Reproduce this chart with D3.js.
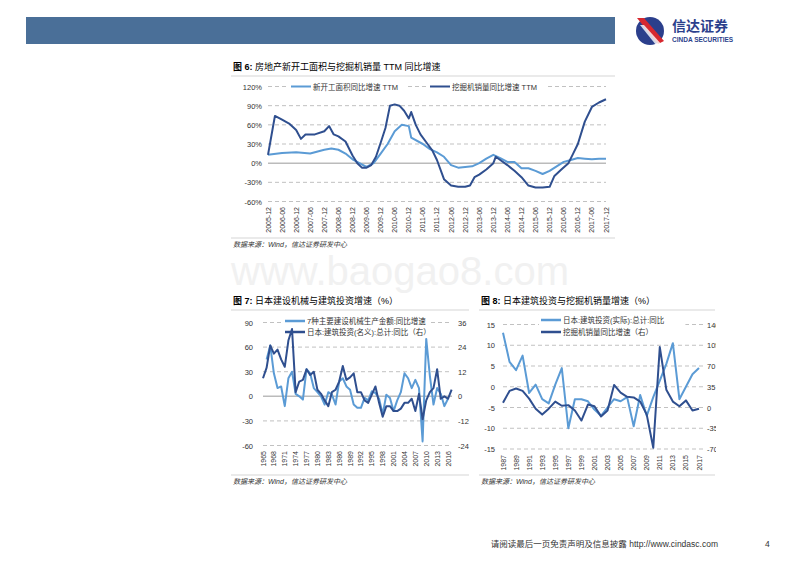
<!DOCTYPE html>
<html><head><meta charset="utf-8">
<script src="https://cdn.jsdelivr.net/npm/d3@7"></script>
<style>body{margin:0;background:#fff}svg{font-family:"Liberation Sans",Arial,"Noto Sans CJK SC",sans-serif}</style>
</head><body><svg id="c" width="800" height="566"></svg>
<script>
// ---- Chart 6 data (monthly, TTM yoy %) ----
const c6StartsDates=["2005-12","2006-06","2006-12","2007-06","2007-12","2008-03","2008-06","2008-09","2008-12","2009-03","2009-06","2009-09","2009-12","2010-03","2010-06","2010-09","2010-12","2011-01","2011-06","2011-09","2011-12","2012-03","2012-06","2012-09","2012-12","2013-03","2013-06","2013-09","2013-12","2014-03","2014-06","2014-09","2014-12","2015-03","2015-06","2015-09","2015-12","2016-03","2016-06","2016-09","2016-12","2017-03","2017-06","2017-09","2017-12"];
const c6StartsVals=[13,16,17,15,21,23,21,15,6,0,-6,0,15,30,50,60,58,40,30,22,17,10,-3,-7,-6,-5,0,7,13,8,2,2,-8,-8,-12,-17,-12,-5,2,5,8,7,6,7,7];
const c6ExcDates=["2005-12","2006-02","2006-03","2006-06","2006-09","2006-12","2007-02","2007-04","2007-08","2007-12","2008-02","2008-04","2008-06","2008-09","2008-12","2009-02","2009-04","2009-06","2009-08","2009-10","2009-12","2010-02","2010-04","2010-06","2010-08","2010-10","2010-12","2011-01","2011-03","2011-05","2011-08","2011-10","2011-12","2012-03","2012-06","2012-09","2012-12","2013-02","2013-04","2013-06","2013-09","2013-12","2014-01","2014-03","2014-06","2014-09","2014-12","2015-03","2015-06","2015-09","2015-12","2016-02","2016-05","2016-08","2016-10","2016-12","2017-03","2017-06","2017-09","2017-12"];
const c6ExcVals=[13,55,74,68,62,52,38,45,45,50,58,45,42,34,12,0,-7,-7,-3,10,32,55,90,92,90,82,70,80,60,45,30,20,5,-25,-35,-37,-37,-35,-22,-18,-10,0,10,5,-3,-12,-22,-35,-38,-38,-37,-20,-10,0,15,30,65,88,95,100];
const c6YTicks=[-60,-30,0,30,60,90,120];
// ---- Chart 7 data (annual) ----
const c7Machine=[[1966,45],[1967,62],[1968,28],[1969,10],[1970,12],[1971,-12],[1972,22],[1973,30],[1974,3],[1975,0],[1976,-4],[1977,33],[1978,28],[1979,10],[1980,5],[1981,0],[1982,-10],[1983,5],[1984,2],[1985,-10],[1986,18],[1987,22],[1988,12],[1989,8],[1990,-10],[1991,-14],[1992,-14],[1993,-2],[1994,-5],[1995,6],[1996,4],[1997,-3],[1998,-22],[1999,2],[2000,-2],[2001,-18],[2002,-5],[2003,5],[2004,28],[2005,22],[2006,10],[2007,20],[2008,10],[2009,-55],[2010,70],[2011,25],[2012,-10],[2013,10],[2014,3],[2015,-12],[2016,-3]];
const c7Invest=[[1965,8.8],[1966,14],[1967,24.8],[1968,20.8],[1969,22.8],[1970,18],[1971,14.4],[1972,27.2],[1973,32.8],[1974,2],[1975,7.2],[1976,8],[1977,13.2],[1978,10.4],[1979,12],[1980,3.2],[1981,1.2],[1982,-2],[1983,-4.8],[1984,2],[1985,3.2],[1986,7.2],[1987,14.8],[1988,8],[1989,9.2],[1990,11.2],[1991,2],[1992,2],[1993,-2],[1994,-3.2],[1995,0.8],[1996,4.8],[1997,-3.2],[1998,-10],[1999,-4.8],[2000,-4.8],[2001,-7.2],[2002,-7.2],[2003,-6],[2004,-3.2],[2005,-3.2],[2006,-1.2],[2007,-7.2],[2008,1.2],[2009,-11.2],[2010,-2],[2011,2],[2012,4],[2013,13.2],[2014,-1.2],[2015,0],[2016,-1.2],[2017,3.2]];
const c7LeftTicks=[-60,-30,0,30,60,90];
const c7RightTicks=[-24,-12,0,12,24,36];
// ---- Chart 8 data (annual) ----
const c8Years=d3.range(1987,2018);
const c8Invest=[13,6,4,7.5,-1.5,0.5,-3,-4,0.5,4.5,-10,-3,-3,-3.5,-5.5,-7,-5,-3,-3.5,-2.5,-9.5,-2,-7,-2.5,1.5,5.5,10.5,-3,0,3,4.5];
const c8Exc=[8,28,32,28,15,-2,-12,-2,10,3,4,-5,-22,5,2,-15,-5,38,25,18,17,10,-12,-68,102,30,10,2,12,-5,-2];
const c8LeftTicks=[-15,-10,-5,0,5,10,15];
const c8RightTicks=[-70,-35,0,35,70,105,140];

const LIGHT="#5b9bd5", DARK="#2f4f8f", GRID="#a6a6a6", TXT="#333";
const svg=d3.select("#c");
// header
svg.append("rect").attr("x",26).attr("y",17).attr("width",589).attr("height",27).attr("fill","#4a6f98");
const lg=svg.append("g").attr("transform","translate(650,31)");
lg.append("circle").attr("r",14).attr("fill","#2b3f8c");
lg.append("path").attr("d","M-13,-13 L-6,-13 L14,10 L8,13 Z").attr("fill","#d7282f");
lg.append("path").attr("d","M-10,-6 L-6,-6 L12,14 L6,14 Z").attr("fill","#fff").attr("opacity",0.8);
svg.append("text").attr("x",672).attr("y",31).attr("font-size",14).attr("font-weight","bold").attr("fill","#2b3f8c").attr("font-family","Noto Sans CJK SC").text("信达证券");
svg.append("text").attr("x",672).attr("y",42).attr("font-size",6.5).attr("font-weight","bold").attr("fill","#2b3f8c").text("CINDA SECURITIES");
// watermark
svg.append("text").attr("x",400).attr("y",285).attr("text-anchor","middle").attr("font-size",40).attr("fill","#f1f1f1").text("www.baogao8.com");
// footer
svg.append("text").attr("x",718).attr("y",547).attr("text-anchor","end").attr("font-size",8.5).attr("fill",TXT).text("请阅读最后一页免责声明及信息披露 http://www.cindasc.com");
svg.append("text").attr("x",765).attr("y",547).attr("font-size",8.5).attr("fill",TXT).text("4");

function title(x,y,num,t,w){
  const g=svg.append("text").attr("x",x).attr("y",y).attr("font-size",9).attr("fill","#000");
  g.append("tspan").attr("font-weight","bold").text("图 "+num+":  ");
  g.append("tspan").text(t);
  svg.append("line").attr("x1",x-2).attr("x2",x+w).attr("y1",y+6).attr("y2",y+6).attr("stroke","#bbb").attr("stroke-width",0.6);
}
function source(x,y,w){
  svg.append("line").attr("x1",x-2).attr("x2",x+w).attr("y1",y-9).attr("y2",y-9).attr("stroke","#bbb").attr("stroke-width",0.6);
  svg.append("text").attr("x",x).attr("y",y).attr("font-size",7).attr("font-style","italic").attr("fill",TXT).text("数据来源：Wind，信达证券研发中心");
}
function grid(y,ticks,x0,x1,zero){
  ticks.forEach(t=>{svg.append("line").attr("x1",x0).attr("x2",x1).attr("y1",y(t)).attr("y2",y(t))
    .attr("stroke",t===zero?"#bbb":GRID).attr("stroke-width",t===zero?1.5:0.7).attr("stroke-dasharray",t===zero?null:"4,3");});
}
function yLabels(y,ticks,x,anchor,fmt){
  ticks.forEach(t=>svg.append("text").attr("x",x).attr("y",y(t)+3).attr("text-anchor",anchor).attr("font-size",7.5).attr("fill",TXT).text(fmt(t)));
}
function xLabels(items,xpos,ybase){
  items.forEach(d=>svg.append("text").attr("transform",`translate(${xpos(d)+2.5},${ybase}) rotate(-90)`).attr("text-anchor","end").attr("font-size",7).attr("fill",TXT).text(d.label));
}
function path(data,x,y,col,w){
  svg.append("path").datum(data).attr("d",d3.line().x(d=>x(d[0])).y(d=>y(d[1]))).attr("fill","none").attr("stroke",col).attr("stroke-width",w).attr("stroke-linejoin","round");
}
function legend(x,y,col,txt,w,len,bg){
  if(bg) svg.append("rect").attr("x",x-2).attr("y",y-5).attr("width",len+4+txt.length*7.2).attr("height",10).attr("fill","#fff");
  svg.append("line").attr("x1",x).attr("x2",x+len).attr("y1",y).attr("y2",y).attr("stroke",col).attr("stroke-width",w);
  svg.append("text").attr("x",x+len+2).attr("y",y+3).attr("font-size",7.5).attr("fill",TXT).text(txt);
}

// ===== Chart 6 =====
title(233,70,"6","房地产新开工面积与挖掘机销量 TTM 同比增速",382);
const p=d3.timeParse("%Y-%m");
const x6=d3.scaleTime().domain([p("2005-12"),p("2017-12")]).range([268,606]);
const y6=d3.scaleLinear().domain([-60,120]).range([201.5,86.5]);
grid(y6,c6YTicks,268,606,0);
yLabels(y6,c6YTicks,262,"end",d=>d+"%");
const c6Labels=d3.range(0,25).map(i=>{const dt=d3.timeMonth.offset(p("2005-12"),i*6);return {d:dt,label:d3.timeFormat("%Y-%m")(dt)};});
xLabels(c6Labels,d=>x6(d.d),207);
path(c6StartsDates.map((d,i)=>[p(d),c6StartsVals[i]]),x6,y6,LIGHT,2);
path(c6ExcDates.map((d,i)=>[p(d),c6ExcVals[i]]),x6,y6,DARK,2);
legend(291,86.5,LIGHT,"新开工面积同比增速 TTM",2,20,true);
legend(430,86.5,DARK,"挖掘机销量同比增速 TTM",2,20,true);
source(233,247,382);

// ===== Chart 7 =====
title(233,304,"7","日本建设机械与建筑投资增速（%）",236);
const x7=d3.scaleLinear().domain([1965,2016]).range([263,448]);
const y7=d3.scaleLinear().domain([-60,90]).range([445.5,322.5]);
const y7r=d3.scaleLinear().domain([-24,36]).range([445.5,322.5]);
grid(y7,c7LeftTicks,263,452,0);
yLabels(y7,c7LeftTicks,253,"end",d=>d);
yLabels(y7r,c7RightTicks,458,"start",d=>d);
xLabels(d3.range(1965,2017,3).map(v=>({v,label:String(v)})),d=>x7(d.v),451);
legend(285,321,LIGHT,"7种主要建设机械生产金额:同比增速",2.5,20,true);
legend(285,332,DARK,"日本:建筑投资(名义):总计:同比（右）",2.5,20,false);
path(c7Machine,x7,y7,LIGHT,2);
path(c7Invest,x7,y7r,DARK,2);
source(233,484,236);

// ===== Chart 8 =====
title(481,304,"8","日本建筑投资与挖掘机销量增速（%）",234);
const x8=d3.scaleLinear().domain([1987,2017]).range([503,699]);
const y8=d3.scaleLinear().domain([-15,15]).range([449,324.5]);
const y8r=d3.scaleLinear().domain([-70,140]).range([449,324.5]);
grid(y8,c8LeftTicks,503,703,null);
yLabels(y8,c8LeftTicks,495,"end",d=>d);
yLabels(y8r,c8RightTicks,707,"start",d=>d);
xLabels(d3.range(1987,2018,2).map(v=>({v,label:String(v)})),d=>x8(d.v),455);
legend(541,320,LIGHT,"日本:建筑投资(实际):总计:同比",2.5,20,true);
legend(541,332,DARK,"挖掘机销量同比增速（右）",2.5,20,false);
path(c8Years.map((yr,i)=>[yr,c8Invest[i]]),x8,y8,LIGHT,2);
path(c8Years.map((yr,i)=>[yr,c8Exc[i]]),x8,y8r,DARK,2);
source(481,484,234);
svg.append("rect").attr("x",716).attr("y",300).attr("width",30).attr("height",160).attr("fill","#fff");
</script></body></html>
